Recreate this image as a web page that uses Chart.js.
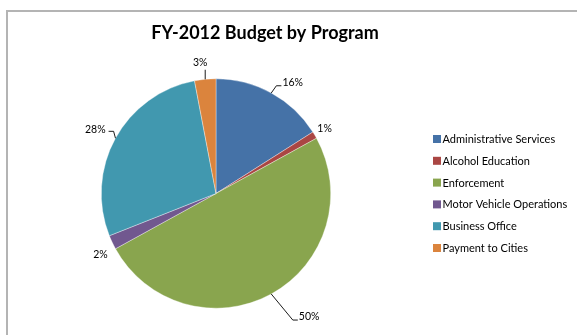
<!DOCTYPE html>
<html>
<head>
<meta charset="utf-8">
<script src="https://cdn.jsdelivr.net/npm/chart.js@4"></script>
<style>
  html, body { margin: 0; padding: 0; background: #fff; }
  #wrap { position: relative; width: 577px; height: 335px; overflow: hidden; }
  #frame { position: absolute; left: 6px; top: 10px; width: 620px; height: 400px;
           border: 2px solid #b4b4b4; box-sizing: border-box; }
  #c { position: absolute; left: 0; top: 0; }
</style>
</head>
<body>
<div id="wrap">
  <div id="frame"></div>
  <canvas id="c" width="577" height="335"></canvas>
</div>
<script>
// Budget share by program, in percent
const programs = ['Administrative Services', 'Alcohol Education', 'Enforcement',
                  'Motor Vehicle Operations', 'Business Office', 'Payment to Cities'];
const budgetShare = [16, 1, 50, 2, 28, 3];
const sliceColors = ['#4572A7', '#AA4643', '#89A54E', '#71588F', '#4198AF', '#DB843D'];
const chartTitle = 'FY-2012 Budget by Program';

// Where each percentage label sits relative to its slice:
// shift = degrees away from the slice middle, gap = px beyond the rim, leader = draw a connector
const labelPlacement = [
  { shift: 5.9,  gap: 20, leader: true },
  { shift: -0.4, gap: 12, leader: false },
  { shift: -8.2, gap: 40, leader: true },
  { shift: -2.7, gap: 16, leader: false },
  { shift: -0.8, gap: 22, leader: true },
  { shift: -1.5, gap: 17, leader: true }
];

const FONT = 'Lato, "Open Sans", sans-serif';

const titlePlugin = {
  id: 'plainTitle',
  afterDraw(chart) {
    const ctx = chart.ctx;
    ctx.save();
    ctx.font = 'bold 18px ' + FONT;
    ctx.fillStyle = '#000';
    ctx.textAlign = 'center';
    ctx.textBaseline = 'middle';
    ctx.fillText(chartTitle, 265, 33);
    ctx.restore();
  }
};

const legendPlugin = {
  id: 'sideLegend',
  afterDraw(chart) {
    const ctx = chart.ctx;
    const x0 = 433, y0 = 139, step = 21.8, box = 8;
    ctx.save();
    ctx.font = '11px ' + FONT;
    ctx.textBaseline = 'middle';
    ctx.textAlign = 'left';
    chart.data.labels.forEach((name, i) => {
      const y = y0 + i * step;
      ctx.fillStyle = chart.data.datasets[0].backgroundColor[i];
      ctx.fillRect(x0, y - box / 2, box, box);
      ctx.fillStyle = '#000';
      ctx.fillText(name, x0 + box + 1.5, y + 0.5);
    });
    ctx.restore();
  }
};

const pctLabelPlugin = {
  id: 'pctLabels',
  afterDatasetsDraw(chart) {
    const ctx = chart.ctx;
    const meta = chart.getDatasetMeta(0);
    ctx.save();
    ctx.font = '10.5px ' + FONT;
    ctx.fillStyle = '#000';
    ctx.strokeStyle = '#000';
    ctx.lineWidth = 0.9;
    ctx.textBaseline = 'middle';
    ctx.textAlign = 'center';
    meta.data.forEach((arc, i) => {
      const p = arc.getProps(['x', 'y', 'startAngle', 'endAngle', 'outerRadius'], true);
      const place = labelPlacement[i];
      const mid = (p.startAngle + p.endAngle) / 2;
      const la = mid + place.shift * Math.PI / 180;
      const dist = p.outerRadius + place.gap;
      const tx = p.x + Math.cos(la) * dist;
      const ty = p.y + Math.sin(la) * dist;
      const text = chart.data.datasets[0].data[i] + '%';
      const w = ctx.measureText(text).width;
      ctx.fillText(text, tx, ty);
      if (!place.leader) return;
      const ax = p.x + Math.cos(mid) * p.outerRadius;
      const ay = p.y + Math.sin(mid) * p.outerRadius;
      ctx.beginPath();
      ctx.moveTo(ax, ay);
      if (Math.abs(Math.cos(mid)) < 0.2) {
        ctx.lineTo(ax, ty + 7);
      } else if (tx > p.x) {
        const left = tx - w / 2;
        ctx.lineTo(left - 6, ty + 3);
        ctx.lineTo(left - 1, ty + 3);
      } else {
        const right = tx + w / 2;
        ctx.lineTo(right + 8, ty + 2);
        ctx.lineTo(right + 3, ty + 2);
      }
      ctx.stroke();
    });
    ctx.restore();
  }
};

new Chart(document.getElementById('c'), {
  type: 'pie',
  data: {
    labels: programs,
    datasets: [{
      data: budgetShare,
      backgroundColor: sliceColors,
      borderColor: 'rgba(255,255,255,0.6)',
      borderWidth: 0.6
    }]
  },
  options: {
    responsive: false,
    animation: false,
    layout: { padding: { left: 101, right: 246, top: 78, bottom: 26 } },
    plugins: {
      legend: { display: false },
      title: { display: false },
      tooltip: { enabled: false }
    }
  },
  plugins: [titlePlugin, legendPlugin, pctLabelPlugin]
});
</script>
</body>
</html>
